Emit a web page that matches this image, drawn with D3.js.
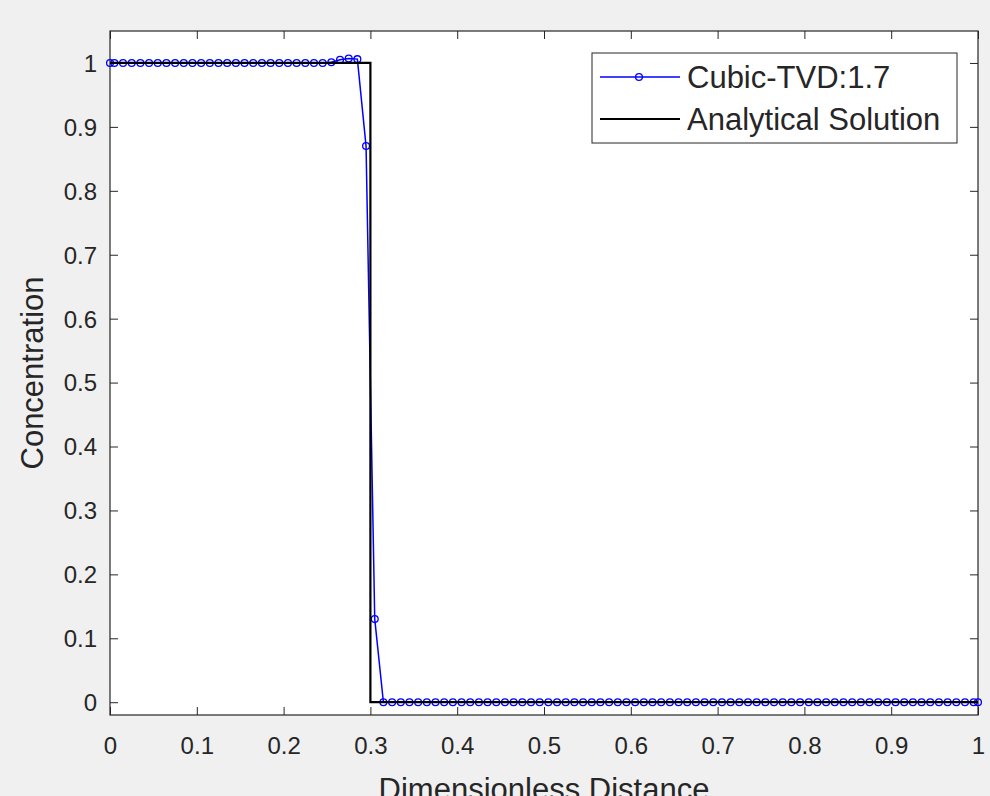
<!DOCTYPE html>
<html>
<head>
<meta charset="utf-8">
<script src="https://cdn.jsdelivr.net/npm/d3@7"></script>
<style>
  html, body { margin: 0; padding: 0; background: #f0f0f0; }
  svg { display: block; }
  text { font-family: "Liberation Sans", Arial, Helvetica, sans-serif; fill: #262626; }
</style>
</head>
<body>
<svg id="chart" width="990" height="796"></svg>
<script>
// numerical solution, cell centres plus the two boundary points
var xNum = [0, 0.005, 0.015, 0.025, 0.035, 0.045, 0.055, 0.065, 0.075, 0.085, 0.095,
	0.105, 0.115, 0.125, 0.135, 0.145, 0.155, 0.165, 0.175, 0.185, 0.195,
	0.205, 0.215, 0.225, 0.235, 0.245, 0.255, 0.265, 0.275, 0.285, 0.295,
	0.305, 0.315, 0.325, 0.335, 0.345, 0.355, 0.365, 0.375, 0.385, 0.395,
	0.405, 0.415, 0.425, 0.435, 0.445, 0.455, 0.465, 0.475, 0.485, 0.495,
	0.505, 0.515, 0.525, 0.535, 0.545, 0.555, 0.565, 0.575, 0.585, 0.595,
	0.605, 0.615, 0.625, 0.635, 0.645, 0.655, 0.665, 0.675, 0.685, 0.695,
	0.705, 0.715, 0.725, 0.735, 0.745, 0.755, 0.765, 0.775, 0.785, 0.795,
	0.805, 0.815, 0.825, 0.835, 0.845, 0.855, 0.865, 0.875, 0.885, 0.895,
	0.905, 0.915, 0.925, 0.935, 0.945, 0.955, 0.965, 0.975, 0.985, 0.995, 1];
var yNum = [1, 1, 1, 1, 1, 1, 1, 1, 1, 1, 1,
	1, 1, 1, 1, 1, 1, 1, 1, 1, 1,
	1, 1, 1, 1, 1, 1.001, 1.005, 1.007, 1.006, 0.87,
	0.13, 0, 0, 0, 0, 0, 0, 0, 0, 0,
	0, 0, 0, 0, 0, 0, 0, 0, 0, 0,
	0, 0, 0, 0, 0, 0, 0, 0, 0, 0,
	0, 0, 0, 0, 0, 0, 0, 0, 0, 0,
	0, 0, 0, 0, 0, 0, 0, 0, 0, 0,
	0, 0, 0, 0, 0, 0, 0, 0, 0, 0,
	0, 0, 0, 0, 0, 0, 0, 0, 0, 0, 0];

// analytical step
var xExact = [0, 0.3, 0.3, 1];
var yExact = [1, 1, 0, 0];

var xTicks = [0, 0.1, 0.2, 0.3, 0.4, 0.5, 0.6, 0.7, 0.8, 0.9, 1];
var yTicks = [0, 0.1, 0.2, 0.3, 0.4, 0.5, 0.6, 0.7, 0.8, 0.9, 1];
var seriesNames = ["Cubic-TVD:1.7", "Analytical Solution"];

var axColor = "#262626";
var axLeft = 110, axRight = 978, axTop = 31, axBottom = 715;
var tickLen = 8;

var svg = d3.select("#chart");

var x = d3.scaleLinear().domain([0, 1]).range([axLeft, axRight]);
var y = d3.scaleLinear().domain([-0.02, 1.05]).range([axBottom, axTop]);

svg.append("rect")
	.attr("x", axLeft).attr("y", axTop)
	.attr("width", axRight - axLeft).attr("height", axBottom - axTop)
	.attr("fill", "#fff");

var fmt = function(d){ return d3.format("~g")(d); };

// axes with inward ticks on all four sides
var gx = svg.append("g").attr("transform", "translate(0," + axBottom + ")")
	.call(d3.axisBottom(x).tickValues(xTicks).tickFormat(fmt).tickSize(-tickLen).tickPadding(22));
var gxTop = svg.append("g").attr("transform", "translate(0," + axTop + ")")
	.call(d3.axisTop(x).tickValues(xTicks).tickFormat("").tickSize(-tickLen));
var gy = svg.append("g").attr("transform", "translate(" + axLeft + ",0)")
	.call(d3.axisLeft(y).tickValues(yTicks).tickFormat(fmt).tickSize(-tickLen).tickPadding(13));
var gyRight = svg.append("g").attr("transform", "translate(" + axRight + ",0)")
	.call(d3.axisRight(y).tickValues(yTicks).tickFormat("").tickSize(-tickLen));

[gx, gxTop, gy, gyRight].forEach(function(g){
	g.select(".domain").remove();
	g.selectAll(".tick line").attr("stroke", axColor).attr("stroke-width", 1);
	g.selectAll(".tick text")
		.attr("fill", axColor)
		.style("font-size", "24px")
		.style("font-family", "'Liberation Sans', Arial, sans-serif");
});
gy.selectAll(".tick text").attr("dy", "0.35em");

svg.append("rect")
	.attr("x", axLeft).attr("y", axTop)
	.attr("width", axRight - axLeft).attr("height", axBottom - axTop)
	.attr("fill", "none").attr("stroke", axColor).attr("stroke-width", 1.2);

var numData = xNum.map(function(d, i){ return [d, yNum[i]]; });
var exactData = xExact.map(function(d, i){ return [d, yExact[i]]; });

var line = d3.line()
	.x(function(d){ return x(d[0]); })
	.y(function(d){ return y(d[1]); });

svg.append("path")
	.datum(numData)
	.attr("d", line)
	.attr("fill", "none").attr("stroke", "#0000ff").attr("stroke-width", 1.5);

svg.selectAll(".marker")
	.data(numData)
	.enter()
		.append("circle")
		.attr("class", "marker")
		.attr("cx", function(d){ return x(d[0]); })
		.attr("cy", function(d){ return y(d[1]); })
		.attr("r", 3.4)
		.attr("fill", "none").attr("stroke", "#0000ff").attr("stroke-width", 1.3);

svg.append("path")
	.datum(exactData)
	.attr("d", line)
	.attr("fill", "none").attr("stroke", "#000").attr("stroke-width", 2.2);

// axis labels
svg.append("text")
	.attr("x", (axLeft + axRight) / 2).attr("y", 800)
	.attr("text-anchor", "middle")
	.style("font-size", "31px")
	.text("Dimensionless Distance");

svg.append("text")
	.attr("transform", "translate(43," + ((axTop + axBottom) / 2) + ") rotate(-90)")
	.attr("text-anchor", "middle")
	.style("font-size", "31px")
	.text("Concentration");

// legend
var lg = svg.append("g");
lg.append("rect")
	.attr("x", 592).attr("y", 53)
	.attr("width", 365).attr("height", 90)
	.attr("fill", "#fff").attr("stroke", axColor).attr("stroke-width", 1);

var rows = [77, 119];
lg.append("line").attr("x1", 600).attr("x2", 680).attr("y1", rows[0]).attr("y2", rows[0])
	.attr("stroke", "#0000ff").attr("stroke-width", 1.5);
lg.append("circle").attr("cx", 639).attr("cy", rows[0]).attr("r", 3.4)
	.attr("fill", "none").attr("stroke", "#0000ff").attr("stroke-width", 1.3);
lg.append("line").attr("x1", 600).attr("x2", 680).attr("y1", rows[1]).attr("y2", rows[1])
	.attr("stroke", "#000").attr("stroke-width", 2.2);

lg.selectAll(".lgText")
	.data(seriesNames)
	.enter()
		.append("text")
		.attr("class", "lgText")
		.attr("x", 687)
		.attr("y", function(d, i){ return rows[i]; })
		.attr("dy", "0.36em")
		.style("font-size", "31px")
		.text(function(d){ return d; });
</script>
</body>
</html>
